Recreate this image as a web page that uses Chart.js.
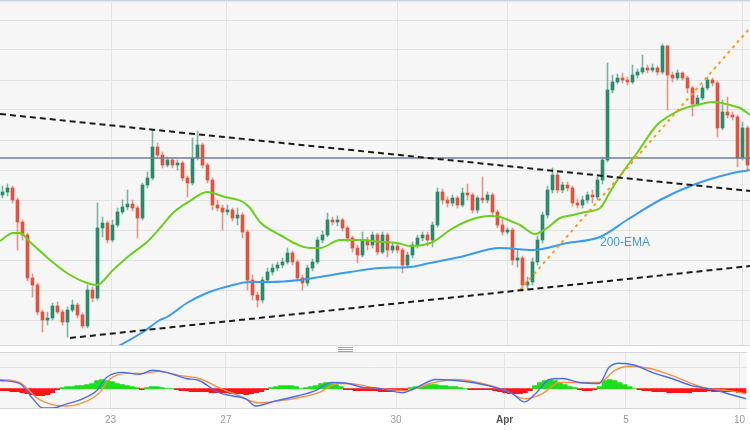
<!DOCTYPE html>
<html>
<head>
<meta charset="utf-8">
<script src="https://cdn.jsdelivr.net/npm/chart.js@4.4.0/dist/chart.umd.min.js"></script>
<style>
html,body{margin:0;padding:0;background:#ffffff;width:750px;height:430px;overflow:hidden;font-family:"Liberation Sans",Arial,sans-serif}
#wrap{position:relative;width:750px;height:430px;background:#fff;overflow:hidden}
#main{position:absolute;left:0;top:0;background:#f6f6f6}
#macd{position:absolute;left:0;top:352px}
.topline{position:absolute;left:0;top:0;width:750px;height:1px;background:#c9d3e0}
.topline2{position:absolute;left:0;top:1px;width:750px;height:1px;background:#e3e8ef}
.sep{position:absolute;left:0;top:345px;width:750px;height:1px;background:#d9d9d9}
.handle{position:absolute;left:338px;top:347px;width:15px;height:5px;background:repeating-linear-gradient(#a3a3a3 0 1px,transparent 1px 2px)}
</style>
</head>
<body>
<div id="wrap">
<canvas id="main" width="750" height="345"></canvas>
<div class="topline"></div><div class="topline2"></div>
<div class="sep"></div>
<div class="handle"></div>
<canvas id="macd" width="750" height="83"></canvas>
</div>
<script>
// ---- x-axis date ticks (candle-index positions) ----
const tickLabels = ['23','27','30','Apr','5','10'];
const tickIdx = [21.7, 44.9, 79.1, 100.9, 125.3, 148.1];
// ---- price grid levels ----
const yGrid = [80,110,140,170,200,230,260,290,320,350,380];

// ---- candles (hourly), price units ----
const opens = [205,208,212,200,178,165,122,115,88,80,
82,94,88,78,90,95,85,74,110,102,
172,177,160,175,188,193,196,192,182,215,
222,253,245,235,240,235,237,222,217,242,
255,235,220,195,192,188,190,182,185,168,
120,105,100,120,128,132,135,138,147,138,
122,117,132,138,160,165,180,178,180,172,
162,152,145,160,155,165,148,165,150,154,
150,135,145,155,162,165,160,175,208,200,
197,202,195,207,205,190,202,200,205,188,
175,168,170,140,142,115,118,138,160,185,
210,225,210,215,212,197,195,200,205,203,
220,240,310,318,322,320,318,325,328,332,
330,332,328,354,325,322,327,322,312,296,
302,312,320,317,272,288,285,283,242,272];
const closes = [208,212,200,178,165,122,115,88,80,82,
94,88,78,90,95,85,74,110,102,172,
177,160,175,188,193,196,192,182,215,222,
253,245,235,240,235,237,222,217,242,255,
235,220,195,192,188,190,182,185,168,120,
105,100,120,128,132,135,138,147,138,122,
117,132,138,160,165,180,178,180,172,162,
152,145,160,155,165,148,165,150,154,150,
135,145,155,162,165,160,175,208,200,197,
202,195,207,205,190,202,200,205,188,175,
168,170,140,142,115,118,138,160,185,210,
225,210,215,212,197,195,200,205,203,220,
240,310,318,322,320,318,325,328,332,330,
332,328,354,325,322,327,322,312,296,302,
312,320,317,272,288,285,283,242,272,235];
const highs = [214,216,214,202,180,167,126,117,90,88,
97,98,90,93,100,97,87,115,113,197,
183,179,180,192,200,210,200,194,217,228,
270,257,248,243,242,240,239,224,262,269,
257,237,222,200,195,195,192,192,187,170,
125,108,123,132,136,138,142,152,149,140,
125,135,141,163,169,187,183,184,182,174,
164,155,168,163,168,167,168,167,157,156,
152,148,158,165,168,168,178,212,211,203,
205,204,212,216,207,204,223,208,207,190,
182,172,172,150,144,123,142,164,188,214,
232,227,218,218,214,201,204,208,210,223,
243,337,325,326,327,323,335,331,345,335,
336,334,356,355,328,330,328,324,314,305,
315,323,322,319,300,303,288,285,278,274];
const lows = [202,204,197,150,160,119,103,85,68,75,
80,86,75,63,88,82,72,72,98,100,
163,157,158,173,186,190,189,162,180,212,
220,242,232,233,232,230,219,203,215,240,
232,217,190,189,170,185,179,175,162,110,
100,93,97,117,125,129,132,136,135,119,
110,114,129,136,157,163,175,174,169,158,
148,137,143,150,152,145,146,143,147,147,
127,132,142,152,159,154,153,173,196,193,
194,192,193,200,187,187,197,197,185,172,
165,166,135,133,109,111,115,135,157,182,
207,207,207,209,194,192,192,197,197,200,
216,238,307,316,317,315,316,322,326,327,
328,325,326,290,318,320,320,307,284,294,
300,310,314,263,270,282,280,233,240,230];

// ---- moving averages (read at sample positions) ----
const ema50Idx = [-0.5,2.1,3.5,5.5,9.5,12.9,16.9,18.9,22.1,25.5,28.9,31.5,34.1,37.5,40.9,44.5,48.1,49.5,51.5,55.5,61.5,63.5,67.5,71.5,76.1,78.9,81.5,86.1,89.5,93.5,97.5,99.5,102.1,103.5,106.5,108.9,111.5,114.1,116.5,119.5,121.5,123.5,126.9,130.9,135.5,138.9,142.1,145.5,147.5,149.5];
const ema50Val = [159,167,167,158,140,127,117,115,130,145,158,172,187,199,208,203,198,192,178,165,152,152,160,160,158,157,154,158,170,180,184,183,178,175,166,172,182,185,188,192,208,224,247,275,290,295,298,295,292,285];
const ema200Idx = [22.5,28.1,31.5,32.9,36.9,40.9,46.1,49.5,53.5,59.5,63.5,69.5,75.5,81.5,85.5,91.5,99.5,106.1,112.9,119.5,124.9,131.5,138.1,146.1,149.5];
const ema200Val = [52,68,80,83,97,107,115,118,118,120,123,128,132,133,137,143,152,150,157,163,180,200,215,227,230];

// ---- trend lines & level ----
const upperTrendIdx = [-0.5, 149.5], upperTrendVal = [286, 209];
const lowerTrendIdx = [13.5, 149.5], lowerTrendVal = [62, 134];
const supportTrendIdx = [103.5, 149.5], supportTrendVal = [110, 372];
const levelVal = 242;
const emaLabel = '200-EMA';

// ---- MACD panel ----
const macdIdx = [-0.5,3.5,6.1,8.1,10.1,12.9,16.1,18.9,20.9,24.1,27.5,30.1,32.9,36.9,39.5,43.5,46.1,48.9,50.9,54.9,59.5,62.9,66.1,69.5,72.9,74.5,80.5,83.1,87.1,91.1,94.5,99.1,102.5,104.9,107.1,109.9,112.5,115.9,119.9,121.9,123.9,127.1,131.1,134.5,138.5,141.9,145.1,149.5];
const macdVal = [8,5,-10,-19,-19,-15,-10,-2,11,16,14,18,16,10,8,-4,-7,-10,-17,-12,-7,-2,6,5,1,1,-4,1,9,8,6,1,-5,-13,-5,9,10,6,5,21,25,23,15,10,3,0,-4,-10];
const sigIdx = [-0.5,3.5,6.9,9.5,12.9,16.1,19.5,21.5,24.9,28.1,31.5,35.5,39.5,43.5,47.5,51.5,55.5,59.5,63.5,67.5,71.5,74.5,81.1,85.9,91.1,96.5,101.1,105.1,108.5,111.9,115.9,119.9,123.1,125.9,129.9,134.5,138.5,141.9,145.9,149.5];
const sigVal = [9,6,-9,-15,-17,-14,-4,9,15,15,17,13,10,1,-7,-14,-12,-9,-4,5,4,1,-2,5,9,5,-2,-10,-5,6,6,6,18,22,20,13,5,0,-2,-5];
const hist = [-2,-2,-3,-3,-4,-5,-6,-7,-7,-6,-4,-1,
1,2,2,3,3,4,5,
8,9,8,7,
5,4,3,2,1,
-1,1,2,2,1,
0,0,
-1,-2,-2,-3,-3,-3,-3,-4,-4,-4,-4,-5,
-5,-5,-6,-5,-4,-3,
-1,
1,2,3,3,3,2,
0,1,
2,3,5,6,5,4,2,
-1,-1,-2,-2,-2,-2,
-2,-3,-3,-3,-2,-2,-1,
1,2,2,3,4,4,3,3,2,2,1,
0,-1,-1,-1,-1,-1,
-2,-3,-4,-5,-5,-5,-4,-2,
3,6,8,9,8,6,4,2,1,
-1,-2,-2,-1,2,
8,9,8,6,4,2,
0,
-1,-2,-2,-3,-3,-3,-4,-4,-4,-4,-4,-3,-3,-3,-2,-3,-3,-3,-3,-3,-4,-4];
const macdGridVal = [21];

// ---------- build ----------
const N = closes.length;
const pts = (xs, ys) => xs.map((x, k) => ({x, y: ys[k]}));
const GREEN = '#2a8a6b', RED = '#e1533e';
const GREEN_W = 'rgba(42,138,107,0.6)', RED_W = 'rgba(225,83,62,0.6)';
const isUp = closes.map((c, i) => c >= opens[i]);

const xTicks = s => { s.ticks = tickIdx.map(v => ({value: v})); };

const textPlugin = {
  id: 'emaText',
  afterDatasetsDraw(chart) {
    const {ctx, scales} = chart;
    ctx.save();
    ctx.font = '12px "Liberation Sans", Arial, sans-serif';
    ctx.fillStyle = '#3d9be9';
    ctx.textAlign = 'center';
    ctx.textBaseline = 'middle';
    ctx.fillText(emaLabel, scales.x.getPixelForValue(124.5), scales.y.getPixelForValue(157));
    ctx.restore();
  }
};

new Chart(document.getElementById('main'), {
  type: 'bar',
  data: {
    datasets: [
      {type: 'line', data: pts(upperTrendIdx, upperTrendVal), borderColor: '#1c1c1c', borderWidth: 2, borderDash: [6, 4], pointRadius: 0, order: 0},
      {type: 'line', data: pts(lowerTrendIdx, lowerTrendVal), borderColor: '#1c1c1c', borderWidth: 2, borderDash: [6, 4], pointRadius: 0, order: 0},
      {type: 'line', data: pts(supportTrendIdx, supportTrendVal), borderColor: '#ff9a1a', borderWidth: 2, borderDash: [3, 4], pointRadius: 0, order: 0},
      {type: 'line', data: pts(ema50Idx, ema50Val), borderColor: '#6ccf1f', borderWidth: 2, pointRadius: 0, cubicInterpolationMode: 'monotone', order: 1},
      {type: 'line', data: pts(ema200Idx, ema200Val), borderColor: '#3a9bef', borderWidth: 2, pointRadius: 0, cubicInterpolationMode: 'monotone', order: 1},
      {type: 'line', data: [{x: -0.5, y: levelVal}, {x: N - 0.5, y: levelVal}], borderColor: '#6f7f97', borderWidth: 1.5, pointRadius: 0, order: 2},
      {data: opens.map((o, i) => ({x: i, y: [o, closes[i]]})), backgroundColor: isUp.map(u => u ? GREEN : RED), barThickness: 3, grouped: false, order: 3},
      {data: lows.map((l, i) => ({x: i, y: [l, highs[i]]})), backgroundColor: isUp.map(u => u ? GREEN_W : RED_W), barThickness: 1, grouped: false, order: 4}
    ]
  },
  options: {
    responsive: false, animation: false, events: [],
    layout: {padding: 0},
    plugins: {legend: {display: false}, tooltip: {enabled: false}},
    scales: {
      x: {type: 'linear', min: -0.5, max: N - 0.5, offset: false,
          grid: {color: '#e5e5e5', drawTicks: false, offset: false}, border: {display: false},
          ticks: {display: false}, afterBuildTicks: xTicks},
      y: {type: 'linear', min: 55, max: 400,
          grid: {color: '#e2e2e2', drawTicks: false}, border: {display: false},
          ticks: {display: false}, afterBuildTicks: s => { s.ticks = yGrid.map(v => ({value: v})); }}
    }
  },
  plugins: [textPlugin]
});

const panelPlugin = {
  id: 'panelBg',
  beforeDraw(chart) {
    const {ctx, chartArea: a} = chart;
    ctx.save();
    ctx.fillStyle = '#f6f6f6';
    ctx.fillRect(a.left, a.top, a.right - a.left, a.bottom - a.top);
    ctx.restore();
  },
  afterDraw(chart) {
    const {ctx, chartArea: a} = chart;
    ctx.save();
    ctx.fillStyle = '#d6d6d6';
    ctx.fillRect(a.left, a.top, a.right - a.left, 1);
    ctx.fillRect(a.left, Math.round(a.bottom) - 1, a.right - a.left, 1);
    ctx.restore();
  }
};

new Chart(document.getElementById('macd'), {
  type: 'bar',
  data: {
    datasets: [
      {type: 'line', data: pts(macdIdx, macdVal), borderColor: '#4b6cf0', borderWidth: 1.4, pointRadius: 0, cubicInterpolationMode: 'monotone', order: 0},
      {type: 'line', data: pts(sigIdx, sigVal), borderColor: '#f59142', borderWidth: 1.4, pointRadius: 0, cubicInterpolationMode: 'monotone', order: 1},
      {data: hist.map((v, i) => ({x: i, y: v})), backgroundColor: hist.map(v => v >= 0 ? '#19e019' : '#ff1414'), barThickness: 5, grouped: false, order: 2}
    ]
  },
  options: {
    responsive: false, animation: false, events: [],
    layout: {padding: {bottom: 4}},
    plugins: {legend: {display: false}, tooltip: {enabled: false}},
    scales: {
      x: {type: 'linear', min: -0.5, max: N - 0.5, offset: false,
          grid: {color: '#e5e5e5', drawTicks: false, offset: false}, border: {display: false},
          ticks: {autoSkip: false, maxRotation: 0, padding: 5,
                  color: c => tickLabels[c.index] === 'Apr' ? '#555555' : '#9a9a9a',
                  font: c => ({family: '"Liberation Sans", Arial, sans-serif', size: 10, weight: tickLabels[c.index] === 'Apr' ? 'bold' : 'normal'}),
                  callback: (v, i) => tickLabels[i]},
          afterBuildTicks: xTicks},
      y: {type: 'linear', min: -20, max: 36,
          grid: {color: '#e2e2e2', drawTicks: false}, border: {display: false},
          ticks: {display: false}, afterBuildTicks: s => { s.ticks = macdGridVal.map(v => ({value: v})); }}
    }
  },
  plugins: [panelPlugin]
});
</script>
</body>
</html>
